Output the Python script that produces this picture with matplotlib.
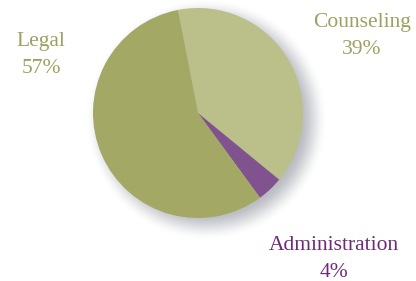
import matplotlib.pyplot as plt
import numpy as np

labels = ['Counseling', 'Administration', 'Legal']
shares = [39, 4, 57]
colors = ['#bbbf8a', '#80528e', '#a3a865']
text_colors = ['#9ea060', '#6e2a78', '#9ea060']

fig = plt.figure(figsize=(4.16, 2.81), dpi=100)
ax = fig.add_axes([0, 0, 1, 1])

cx, cy, r = 198, 168, 105

# soft drop shadow behind the pie
xx, yy = np.meshgrid(np.arange(0, 416), np.arange(0, 281))
d = np.hypot(xx - (cx + 8), yy - (cy - 7))
t = np.clip((r + 16 - d) / 28, 0, 1)
a = t * t * (3 - 2 * t) * 0.8
shadow = np.zeros((281, 416, 4))
shadow[..., :3] = np.array([0.66, 0.67, 0.70])
shadow[..., 3] = a
ax.imshow(shadow, extent=(0, 416, 0, 281), origin='lower', zorder=0)

ax.pie(shares, colors=colors, startangle=101, counterclock=False,
       center=(cx, cy), radius=r, wedgeprops=dict(linewidth=0),
       normalize=True)

ax.set_xlim(0, 416)
ax.set_ylim(0, 281)
ax.set_aspect('equal')
ax.axis('off')

font = dict(family='Liberation Serif', fontsize=15.5, ha='center', va='baseline')
pos = {'Legal': (41, 281 - 46), 'Counseling': (362, 281 - 27),
       'Administration': (334, 281 - 250)}
for lab, val, col in zip(labels, shares, text_colors):
    x, y = pos[lab]
    ax.text(x, y, lab, color=col, **font)
    ax.text(x, y - 27, f'{val}%', color=col, **font)

fig.savefig('out.png', dpi=100)
